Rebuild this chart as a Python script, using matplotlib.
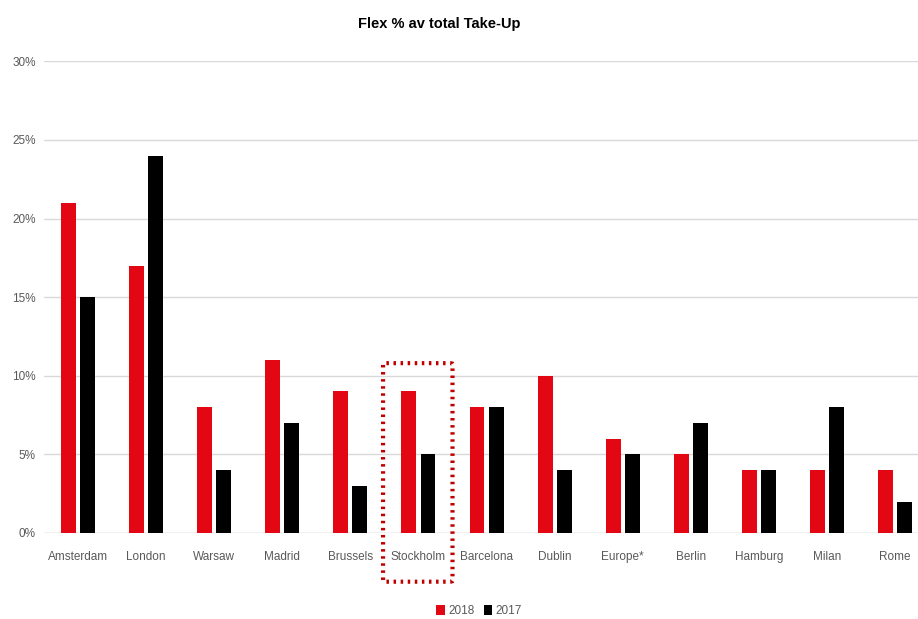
import matplotlib
matplotlib.use("Agg")
import matplotlib.pyplot as plt
import numpy as np
from matplotlib.patches import FancyBboxPatch
from matplotlib.ticker import FuncFormatter

plt.rcParams['font.family'] = ['Liberation Sans', 'DejaVu Sans']

cities = ["Amsterdam", "London", "Warsaw", "Madrid", "Brussels", "Stockholm",
          "Barcelona", "Dublin", "Europe*", "Berlin", "Hamburg", "Milan", "Rome"]
vals_2018 = [21, 17, 8, 11, 9, 9, 8, 10, 6, 5, 4, 4, 4]
vals_2017 = [15, 24, 4, 7, 3, 5, 8, 4, 5, 7, 4, 8, 2]

red = "#E30613"
txt = "#595959"

fig = plt.figure(figsize=(9.18, 6.19), dpi=100)
ax = fig.add_axes([0.048, 0.139, 0.964, 0.762])

x = np.arange(len(cities))
w = 0.22
ax.bar(x - 0.14, vals_2018, w, color=red, label="2018", zorder=3)
ax.bar(x + 0.14, vals_2017, w, color="black", label="2017", zorder=3)

ax.set_xlim(-0.5, len(cities) - 0.5)
ax.set_ylim(0, 30)
ax.set_yticks(range(0, 31, 5))
ax.yaxis.set_major_formatter(FuncFormatter(lambda v, p: f"{v:.0f}%"))
ax.grid(axis='y', color="#d9d9d9", linewidth=1, zorder=0)
ax.set_xticks(x)
ax.set_xticklabels(cities)
ax.tick_params(length=0, labelsize=8.5, colors=txt)
ax.tick_params(axis='x', pad=13)
ax.tick_params(axis='y', pad=6)
for s in ax.spines.values():
    s.set_visible(False)
ax.axhline(0, color="#d9d9d9", linewidth=1, zorder=2)

fig.text(0.479, 0.962, "Flex % av total Take-Up", ha='center', va='center',
         fontsize=10.5, fontweight='bold', color='black')

# highlight box around Stockholm
i = cities.index("Stockholm")
box = FancyBboxPatch((i - 0.52, -3.1), 1.02, 13.9,
                     boxstyle="round,pad=0,rounding_size=0.05",
                     fill=False, edgecolor="#C00000", linewidth=3,
                     linestyle=(0, (0.6, 1.1)), clip_on=False, zorder=5)
ax.add_patch(box)

ax.legend(loc='center', bbox_to_anchor=(0.522, 0.013), bbox_transform=fig.transFigure,
          ncol=2, frameon=False, fontsize=8.5, handlelength=0.7, handleheight=0.9,
          handletextpad=0.3, columnspacing=0.8, labelcolor=txt)

fig.savefig("out.png", dpi=100)
